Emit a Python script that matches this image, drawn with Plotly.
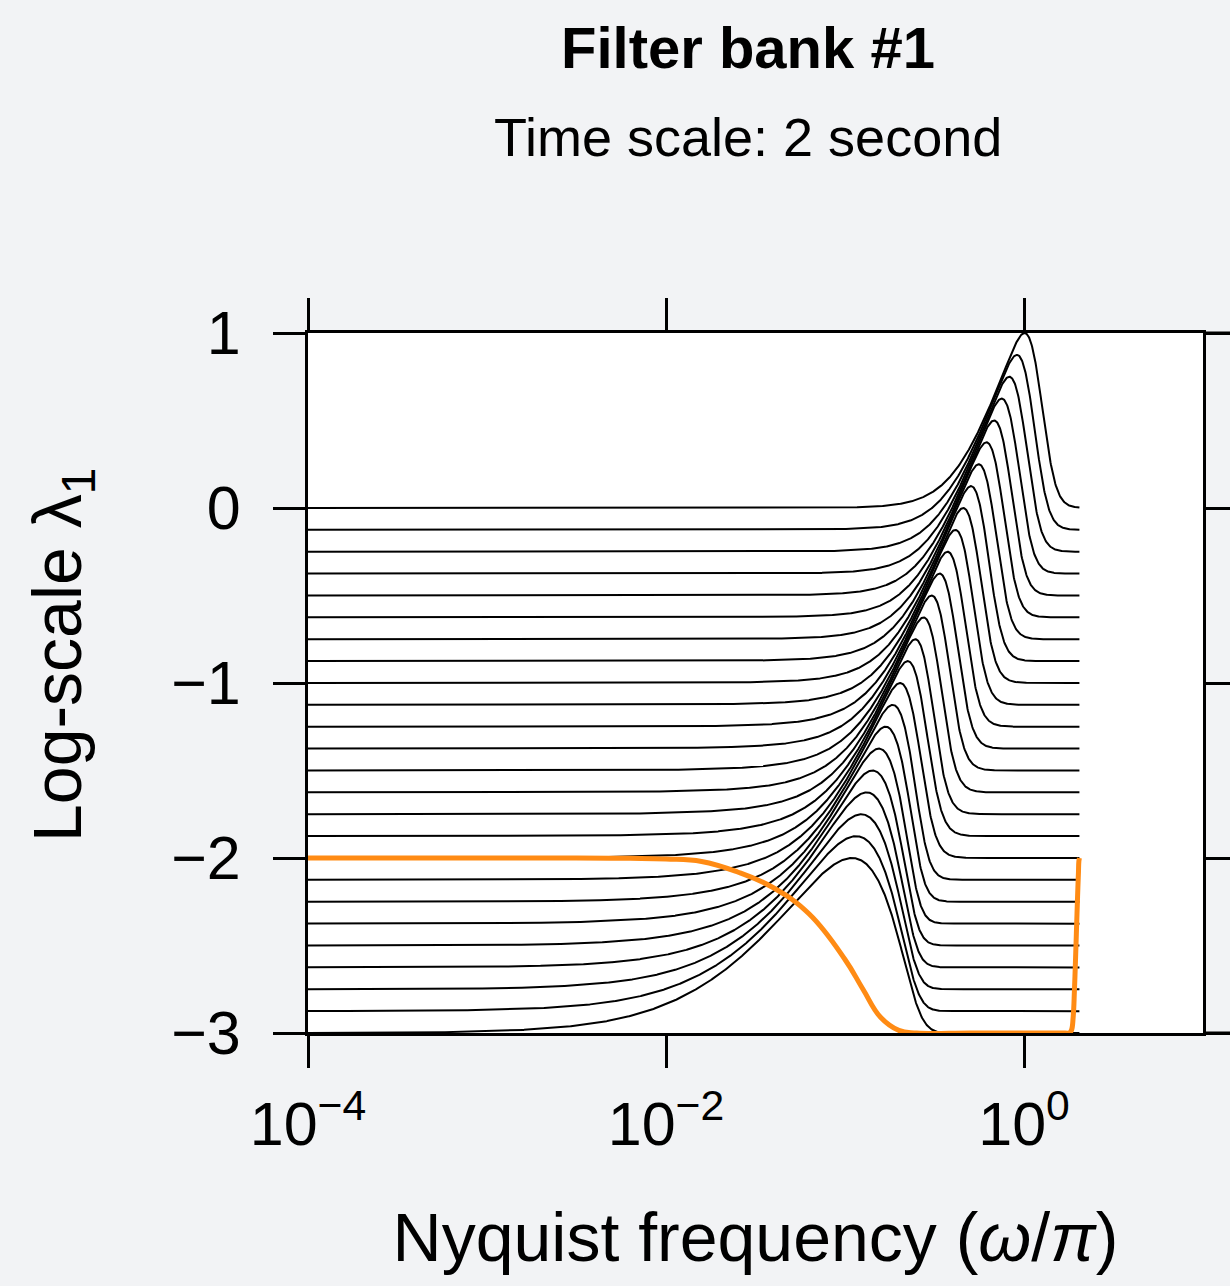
import numpy as np
import plotly.graph_objects as go

# Filter-bank responses: one curve per log-scale lambda level
levels = [-3.0, -2.875, -2.75, -2.625, -2.5, -2.375, -2.25, -2.125, -2.0,
          -1.875, -1.75, -1.625, -1.5, -1.375, -1.25, -1.125, -1.0,
          -0.875, -0.75, -0.625, -0.5, -0.375, -0.25, -0.125, 0.0]
peak_values = [-2.0, -1.875, -1.75, -1.625, -1.5, -1.375, -1.25, -1.125, -1.0,
               -0.875, -0.75, -0.625, -0.5, -0.375, -0.25, -0.125, 0.0,
               0.125, 0.25, 0.375, 0.5, 0.625, 0.75, 0.875, 1.0]
# high-frequency roll-off of each filter: order p and shape m
rolloff_p = [2.3, 2.8, 3.4, 4.2, 5.2, 6.4, 7.8, 9.4, 11.0, 12.5, 14.0, 14.0,
             14.0, 14.0, 14.0, 14.0, 14.0, 14.0, 14.0, 14.0, 14.0, 14.0,
             14.0, 14.0, 14.0]
rolloff_m = [20.0, 12.0, 8.0, 5.5, 4.0, 3.0, 2.2, 1.7, 1.3, 1.1, 1.0, 1.0,
             1.0, 1.0, 1.0, 1.0, 1.0, 1.0, 1.0, 1.0, 1.0, 1.0, 1.0, 1.0, 1.0]
# sharpness of the knee where a curve leaves its baseline
knee = [1.0, 1.01, 1.02, 1.03, 1.04, 1.05, 1.06, 1.07, 1.08, 1.09, 1.1,
        1.11, 1.12, 1.13, 1.14, 1.15, 1.16, 1.17, 1.18, 1.19, 1.2, 1.21,
        1.22, 1.23, 1.25]
# common rising envelope: a*w^3 + b*w^1.3
env_a, env_b = 11.7, 0.18
w_max = 2.04

# low-pass reference filter (orange)
lowpass_w = [1e-4, 1e-3, 0.00316, 0.00631, 0.01, 0.0158, 0.0251, 0.0398,
             0.0631, 0.1, 0.126, 0.158, 0.2, 0.251, 0.5, 1.0, 1.7, 1.789,
             1.84, 1.882, 1.914, 1.94, 1.977, 2.0, 2.015, 2.025, 2.04]
lowpass_y = [-2.0, -2.0, -2.0, -2.002, -2.006, -2.02, -2.08, -2.17, -2.32,
             -2.58, -2.75, -2.91, -2.985, -3.0, -3.0, -3.0, -3.0, -3.0,
             -2.985, -2.91, -2.75, -2.58, -2.32, -2.17, -2.08, -2.02, -2.0]

x_ticks = [1e-4, 1e-2, 1.0]
x_ticktext = ["10<sup>\u22124</sup>", "10<sup>\u22122</sup>", "10<sup>0</sup>"]
y_ticks = [-3, -2, -1, 0, 1]
y_ticktext = ["\u22123", "\u22122", "\u22121", "0", "1"]

w = np.logspace(-4, np.log10(w_max), 1600)
envelope = env_a * w ** 3 + env_b * w ** 1.3


def response(level, peak, p, m, k):
    lam = 10.0 ** level
    lo, hi = -4.0, 1.5
    y = None
    for _ in range(60):
        mid = 0.5 * (lo + hi)
        r = (w / 10 ** mid) ** p
        g = envelope * np.exp(-m * np.log1p(r / m))
        y = np.log10(lam ** k + g ** k) / k
        if y.max() > peak:
            hi = mid
        else:
            lo = mid
    return y


fig = go.Figure()
for L, pk, p, m, k in zip(levels, peak_values, rolloff_p, rolloff_m, knee):
    fig.add_trace(go.Scatter(x=w, y=response(L, pk, p, m, k), mode="lines",
                             line=dict(color="black", width=2),
                             showlegend=False, hoverinfo="skip"))

fig.add_trace(go.Scatter(x=lowpass_w, y=lowpass_y, mode="lines",
                         line=dict(color="#ff8b14", width=5, shape="spline",
                                   smoothing=1.2),
                         showlegend=False, hoverinfo="skip"))

font_family = "Liberation Sans, Arial, sans-serif"
tick_font = dict(family=font_family, size=61, color="black")
axis_common = dict(showline=True, linewidth=3, linecolor="black", mirror="ticks",
                   ticks="outside", ticklen=32, tickwidth=2.5, tickcolor="black",
                   showgrid=False, zeroline=False, tickfont=tick_font)

fig.update_xaxes(type="log", range=[-4, 1], tickvals=x_ticks, ticktext=x_ticktext,
                 title=dict(text="Nyquist frequency (<i>\u03c9</i>/<i>\u03c0</i>)",
                            font=dict(family=font_family, size=68, color="black"),
                            standoff=57),
                 ticklabelstandoff=4, **axis_common)
fig.update_yaxes(range=[-3, 1], tickvals=y_ticks, ticktext=y_ticktext,
                 ticklabelstandoff=20, **axis_common)

# y-axis title, placed as a rotated annotation
fig.add_annotation(text="Log-scale \u03bb<sub>1</sub>", xref="paper", yref="paper",
                   x=(62 - 308) / 895, y=(1033 - 655) / 700,
                   xanchor="center", yanchor="middle", textangle=-90,
                   showarrow=False,
                   font=dict(family=font_family, size=68, color="black"))

# top and bottom frame lines continue past the right edge
for yv in (0, 1):
    fig.add_shape(type="line", xref="paper", yref="paper", x0=1.0, x1=1.05,
                  y0=yv, y1=yv, line=dict(color="black", width=3))

title_font = "Liberation Sans, Arial, sans-serif"
fig.add_annotation(text="<b>Filter bank #1</b>", xref="paper", yref="paper",
                   x=(748 - 308) / 895, y=(1033 - 47) / 700,
                   xanchor="center", yanchor="middle", showarrow=False,
                   font=dict(family=title_font, size=58, color="black"))
fig.add_annotation(text="Time scale: 2 second", xref="paper", yref="paper",
                   x=(748 - 308) / 895, y=(1033 - 137) / 700,
                   xanchor="center", yanchor="middle", showarrow=False,
                   font=dict(family=title_font, size=54, color="black"))

fig.update_layout(width=1230, height=1286,
                  margin=dict(l=308, r=27, t=333, b=253, autoexpand=False),
                  paper_bgcolor="#f2f3f5", plot_bgcolor="white")

fig.write_html("out.html")
